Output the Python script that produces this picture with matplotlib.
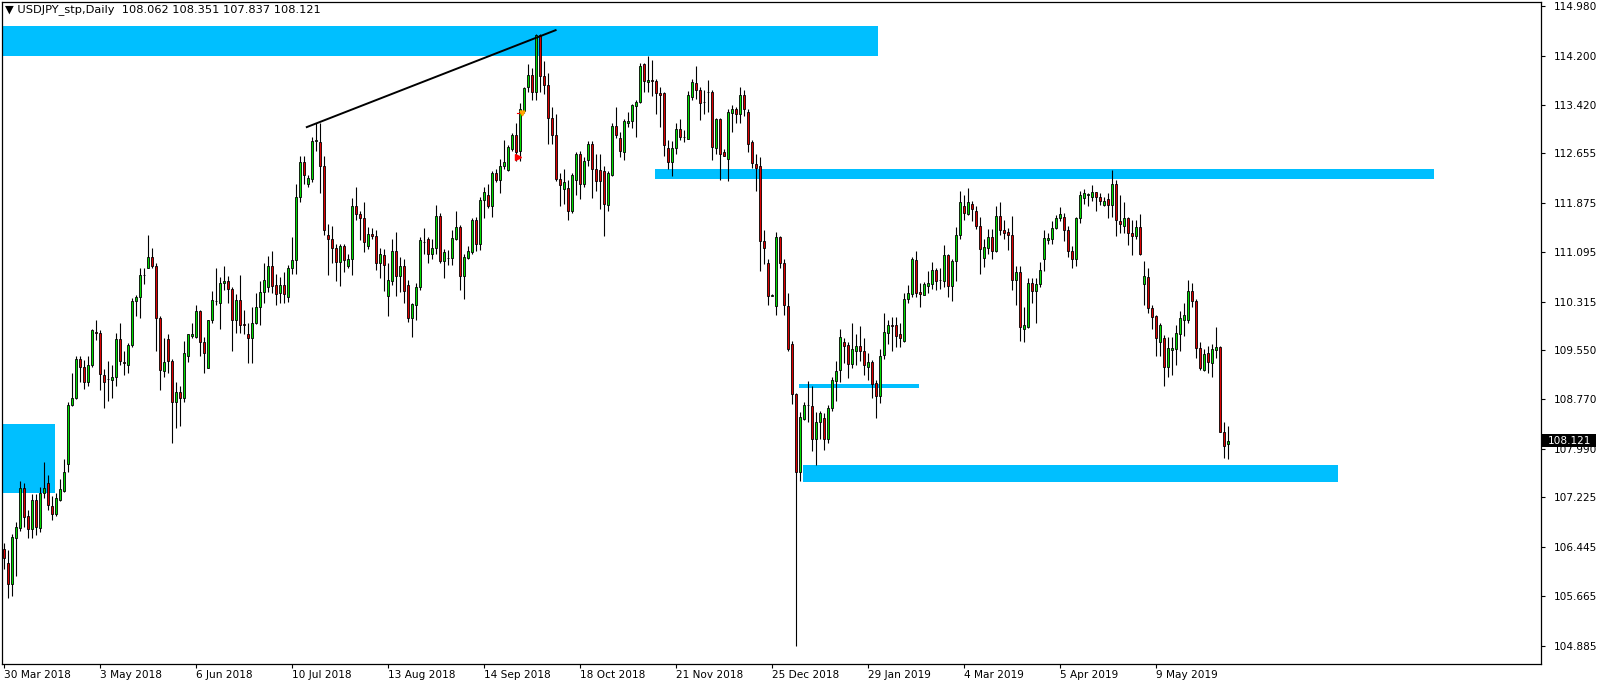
#!/usr/bin/env python
"""
USDJPY daily candlestick chart (MT4 style) with support / resistance zones
"""

import matplotlib
matplotlib.use('Agg')
import matplotlib.pyplot as plt
import matplotlib.transforms as mtransforms
from matplotlib.patches import Rectangle

# ---- data: one entry per daily bar, 30 Mar 2018 onwards ----
opens = [
    106.41, 106.19, 105.85, 106.58, 106.74, 107.37, 106.93, 106.72, 107.19, 106.74,
    107.30, 107.45, 107.09, 106.96, 107.19, 107.33, 107.75, 108.69, 108.80, 109.41,
    109.28, 109.05, 109.32, 109.83, 109.82, 109.15, 109.10, 109.08, 109.12, 109.73,
    109.36, 109.32, 109.63, 110.32, 110.38, 110.74, 110.85, 111.02, 110.88, 110.05,
    109.22, 109.73, 109.38, 108.73, 108.89, 108.79, 109.45, 109.77, 109.75, 110.17,
    109.68, 109.27, 110.02, 110.33, 110.30, 110.61, 110.64, 110.52, 110.03, 110.34,
    109.96, 109.81, 109.74, 109.98, 110.23, 110.46, 110.54, 110.88, 110.57, 110.45,
    110.57, 110.38, 110.84, 110.97, 111.97, 112.52, 112.17, 112.25, 112.85, 112.83,
    112.45, 111.37, 111.30, 111.16, 110.94, 111.20, 110.88, 110.99, 111.82, 111.70,
    111.63, 111.20, 111.38, 111.35, 110.93, 111.05, 110.40, 110.64, 111.11, 110.72,
    110.87, 110.57, 110.05, 110.26, 110.54, 111.25, 111.30, 111.06, 111.16, 111.66,
    110.95, 111.00, 111.00, 111.30, 111.50, 110.72, 111.00, 111.09, 111.61, 111.23,
    111.92, 112.00, 111.82, 112.34, 112.24, 112.46, 112.39, 112.72, 112.95, 112.69,
    113.33, 113.70, 113.89, 113.63, 114.52, 113.87, 113.74, 113.21, 112.95, 112.25,
    112.10, 112.11, 111.75, 112.23, 112.64, 112.17, 112.55, 112.81, 112.41, 112.39,
    112.38, 111.84, 112.32, 113.09, 112.90, 112.67, 113.14, 113.17, 113.41, 113.47,
    114.06, 113.78, 113.81, 113.80, 113.61, 113.61, 112.74, 112.52, 112.74, 113.04,
    112.92, 112.88, 113.54, 113.77, 113.66, 113.47, 113.63, 113.63, 112.74, 113.20,
    112.67, 112.57, 113.29, 113.35, 113.27, 113.57, 113.31, 112.83, 112.48, 112.46,
    111.27, 110.93, 110.41, 110.24, 111.34, 110.92, 110.24, 109.64, 108.85, 107.62,
    108.46, 108.69, 108.66, 108.14, 108.41, 108.48, 108.14, 108.63, 109.06, 109.24,
    109.68, 109.63, 109.33, 109.53, 109.61, 109.53, 109.29, 109.36, 109.03, 108.82,
    109.47, 109.82, 109.94, 109.95, 109.80, 109.70, 110.35, 110.43, 110.97, 110.47,
    110.42, 110.56, 110.59, 110.82, 110.66, 110.64, 111.05, 110.56, 110.95, 111.37,
    111.82, 111.70, 111.86, 111.74, 111.51, 111.00, 111.16, 111.33, 111.11, 111.66,
    111.45, 111.41, 111.37, 110.66, 110.78, 109.88, 109.91, 110.61, 110.49, 110.59,
    110.98, 111.28, 111.30, 111.47, 111.63, 111.65, 111.44, 111.11, 110.99, 111.63,
    111.95, 112.00, 111.96, 112.05, 111.96, 111.84, 111.93, 111.84, 112.17, 111.58,
    111.51, 111.63, 111.39, 111.35, 111.49, 110.59, 110.71, 110.21, 110.08, 109.67,
    109.74, 109.29, 109.55, 109.57, 109.81, 110.03, 110.03, 110.49, 110.33, 109.59,
    109.24, 109.50, 109.34, 109.55, 109.60, 108.25, 108.062,
]
highs = [
    106.51, 106.40, 106.65, 106.83, 107.49, 107.45, 107.03, 107.28, 107.28, 107.38,
    107.78, 107.57, 107.24, 107.30, 107.52, 107.83, 108.73, 109.18, 109.45, 109.45,
    109.39, 109.46, 109.89, 110.02, 109.86, 109.25, 109.38, 109.32, 109.82, 109.98,
    109.53, 109.66, 110.37, 110.42, 110.84, 110.84, 111.37, 111.16, 110.92, 110.09,
    109.74, 109.81, 109.41, 109.05, 108.98, 109.70, 109.81, 109.98, 110.26, 110.19,
    109.75, 110.03, 110.49, 110.84, 110.71, 110.88, 110.72, 110.54, 110.43, 110.73,
    110.19, 109.98, 110.23, 110.45, 110.64, 110.92, 111.04, 111.11, 110.75, 110.71,
    110.78, 110.89, 111.33, 112.17, 112.62, 112.62, 112.32, 112.92, 113.13, 113.14,
    112.62, 111.54, 111.51, 111.23, 111.23, 111.23, 111.07, 111.95, 112.13, 111.75,
    111.88, 111.49, 111.47, 111.44, 111.16, 111.14, 110.93, 111.30, 111.42, 111.02,
    110.99, 110.66, 110.29, 110.61, 111.34, 111.47, 111.34, 111.30, 111.84, 111.72,
    111.14, 111.13, 111.44, 111.74, 111.53, 111.06, 111.20, 111.63, 111.65, 111.97,
    112.13, 112.17, 112.38, 112.41, 112.57, 112.86, 112.79, 112.97, 113.14, 113.45,
    113.71, 114.06, 114.01, 114.54, 114.54, 114.11, 113.92, 113.38, 113.27, 112.34,
    112.41, 112.24, 112.34, 112.67, 112.69, 112.59, 112.85, 112.85, 112.65, 112.65,
    112.45, 112.38, 113.14, 113.38, 113.00, 113.20, 113.31, 113.43, 113.50, 114.08,
    114.08, 114.20, 114.13, 113.83, 113.70, 113.63, 112.86, 112.85, 113.13, 113.20,
    113.02, 113.64, 113.83, 114.03, 113.71, 113.66, 113.81, 113.66, 113.22, 113.22,
    112.72, 113.35, 113.42, 113.38, 113.70, 113.66, 113.35, 112.86, 112.64, 112.60,
    111.44, 110.99, 110.43, 111.41, 111.35, 110.99, 110.45, 109.70, 108.87, 108.57,
    108.73, 109.06, 108.99, 108.57, 108.59, 108.56, 108.68, 109.13, 109.38, 109.88,
    109.74, 109.67, 109.98, 109.80, 109.93, 109.74, 109.50, 109.39, 109.08, 109.57,
    110.14, 110.03, 110.07, 110.07, 109.98, 110.45, 110.57, 111.02, 111.11, 110.61,
    110.63, 110.79, 110.94, 110.85, 110.84, 111.21, 111.07, 110.99, 111.49, 112.06,
    111.99, 112.11, 111.90, 111.82, 111.65, 111.30, 111.46, 111.46, 111.82, 111.88,
    111.61, 111.47, 111.67, 110.88, 110.88, 110.23, 110.68, 110.68, 110.68, 110.94,
    111.44, 111.39, 111.58, 111.68, 111.81, 111.72, 111.51, 111.20, 111.65, 112.06,
    112.09, 112.03, 112.16, 112.05, 112.03, 111.97, 112.03, 112.39, 112.23, 111.99,
    111.88, 111.65, 111.60, 111.61, 111.70, 110.95, 110.84, 110.26, 110.10, 109.98,
    109.78, 109.75, 109.75, 109.95, 110.16, 110.29, 110.66, 110.61, 110.36, 109.67,
    109.57, 109.61, 109.64, 109.91, 109.61, 108.42, 108.351,
]
lows = [
    106.09, 105.63, 105.66, 105.98, 106.69, 106.75, 106.58, 106.58, 106.63, 106.68,
    107.21, 107.03, 106.86, 106.93, 107.16, 107.31, 107.62, 108.67, 108.77, 109.05,
    108.94, 108.99, 109.29, 109.71, 108.92, 108.63, 108.75, 108.80, 108.98, 109.32,
    109.15, 109.18, 109.60, 110.09, 110.05, 110.59, 110.84, 110.85, 109.53, 108.92,
    109.12, 109.18, 108.09, 108.32, 108.35, 108.73, 109.36, 109.74, 109.74, 109.46,
    109.19, 109.27, 109.98, 110.26, 109.89, 110.50, 110.30, 109.53, 109.82, 109.82,
    109.81, 109.34, 109.34, 109.96, 109.95, 110.30, 110.47, 110.45, 110.26, 110.30,
    110.30, 110.31, 110.75, 110.75, 111.89, 112.17, 112.13, 112.20, 112.69, 112.03,
    111.37, 110.73, 110.93, 110.64, 110.56, 110.78, 110.85, 110.73, 111.61, 111.28,
    111.09, 111.14, 111.30, 110.81, 110.68, 110.49, 110.09, 110.58, 110.40, 110.47,
    110.30, 110.00, 109.75, 110.03, 110.50, 111.06, 110.92, 110.99, 111.06, 110.92,
    110.68, 110.89, 110.89, 111.28, 110.50, 110.36, 110.99, 111.07, 111.11, 111.13,
    111.63, 111.79, 111.65, 112.20, 112.03, 112.41, 112.38, 112.69, 112.53, 112.53,
    113.29, 113.63, 113.50, 113.50, 113.63, 113.59, 112.81, 112.81, 112.22, 111.82,
    111.86, 111.61, 111.72, 111.99, 111.93, 112.13, 112.46, 111.95, 112.06, 111.77,
    111.35, 111.75, 112.29, 112.90, 112.59, 112.55, 113.07, 113.06, 112.92, 113.45,
    113.63, 113.63, 113.56, 113.28, 113.07, 112.62, 112.41, 112.29, 112.65, 112.86,
    112.83, 112.88, 113.50, 113.52, 113.18, 113.28, 113.31, 112.55, 112.64, 112.23,
    112.61, 112.22, 113.00, 113.14, 113.14, 113.24, 112.67, 112.43, 112.06, 110.79,
    110.91, 110.26, 110.40, 110.10, 110.84, 110.10, 109.53, 108.70, 104.885, 107.48,
    108.44, 108.41, 107.95, 107.74, 108.14, 107.97, 108.09, 108.59, 108.75, 109.05,
    109.34, 109.11, 109.27, 109.31, 109.38, 109.15, 109.08, 108.80, 108.48, 108.71,
    109.41, 109.64, 109.53, 109.60, 109.60, 109.68, 110.30, 110.38, 110.38, 110.23,
    110.42, 110.45, 110.52, 110.50, 110.52, 110.54, 110.38, 110.33, 110.64, 111.30,
    111.61, 111.68, 111.58, 111.46, 110.75, 110.86, 111.07, 110.99, 111.09, 111.37,
    111.30, 111.13, 110.50, 110.26, 109.70, 109.68, 109.90, 110.30, 109.98, 110.54,
    110.79, 111.23, 111.23, 111.46, 111.58, 111.27, 111.02, 110.84, 110.88, 111.56,
    111.86, 111.82, 111.90, 111.74, 111.84, 111.82, 111.63, 111.65, 111.35, 111.40,
    111.40, 111.21, 111.05, 111.30, 111.05, 110.26, 110.14, 109.88, 109.45, 109.45,
    108.99, 109.13, 109.15, 109.31, 109.53, 109.77, 109.98, 110.23, 109.43, 109.24,
    109.22, 109.18, 109.13, 109.43, 108.25, 107.85, 107.837,
]
closes = [
    106.27, 105.85, 106.60, 106.76, 107.37, 106.92, 106.72, 107.19, 106.76, 107.30,
    107.37, 107.10, 106.96, 107.21, 107.35, 107.62, 108.69, 108.80, 109.41, 109.28,
    109.05, 109.32, 109.86, 109.82, 109.17, 109.05, 109.09, 109.13, 109.73, 109.38,
    109.35, 109.63, 110.32, 110.38, 110.74, 110.73, 111.02, 110.88, 110.05, 109.24,
    109.36, 109.38, 108.73, 108.89, 108.79, 109.51, 109.80, 109.81, 110.17, 109.67,
    109.50, 110.02, 110.34, 110.32, 110.61, 110.64, 110.52, 110.03, 110.34, 109.95,
    109.95, 109.74, 109.98, 110.23, 110.47, 110.66, 110.88, 110.56, 110.43, 110.57,
    110.43, 110.84, 110.97, 111.97, 112.52, 112.32, 112.27, 112.85, 112.86, 112.45,
    111.44, 111.30, 111.16, 110.94, 111.20, 110.97, 110.99, 111.82, 111.70, 111.63,
    111.25, 111.38, 111.35, 110.93, 111.06, 110.90, 110.66, 111.11, 110.72, 110.87,
    110.49, 110.05, 110.27, 110.54, 111.28, 111.26, 111.06, 111.16, 111.66, 110.95,
    111.09, 111.01, 111.32, 111.50, 110.72, 111.02, 111.11, 111.61, 111.23, 111.92,
    112.05, 111.82, 112.34, 112.24, 112.46, 112.52, 112.76, 112.95, 112.67, 113.35,
    113.68, 113.90, 113.63, 114.52, 113.87, 113.73, 113.21, 112.95, 112.25, 112.15,
    112.20, 111.75, 112.31, 112.64, 112.17, 112.53, 112.81, 112.41, 112.22, 112.22,
    111.86, 112.34, 113.09, 112.95, 112.69, 113.17, 113.17, 113.42, 113.47, 114.03,
    113.80, 113.81, 113.79, 113.61, 113.58, 112.79, 112.52, 112.74, 113.04, 112.91,
    112.91, 113.57, 113.78, 113.66, 113.45, 113.46, 113.62, 112.76, 113.20, 112.64,
    112.62, 113.31, 113.35, 113.27, 113.57, 113.36, 112.81, 112.50, 112.43, 111.27,
    111.16, 110.40, 110.41, 111.34, 110.93, 110.26, 109.57, 108.85, 107.62, 108.49,
    108.69, 108.68, 108.14, 108.41, 108.55, 108.14, 108.64, 109.08, 109.22, 109.75,
    109.61, 109.33, 109.57, 109.61, 109.53, 109.31, 109.36, 109.01, 108.82, 109.46,
    109.84, 109.95, 109.93, 109.77, 109.74, 110.35, 110.45, 110.98, 110.45, 110.43,
    110.59, 110.61, 110.82, 110.64, 110.65, 111.05, 110.56, 110.95, 111.37, 111.89,
    111.72, 111.88, 111.77, 111.51, 111.14, 111.18, 111.33, 111.11, 111.67, 111.44,
    111.39, 111.37, 110.66, 110.78, 109.91, 109.95, 110.61, 110.49, 110.59, 110.82,
    111.32, 111.32, 111.47, 111.63, 111.70, 111.44, 111.11, 110.99, 111.63, 111.99,
    112.03, 112.01, 112.05, 111.96, 111.90, 111.91, 111.84, 112.17, 111.60, 111.54,
    111.63, 111.39, 111.35, 111.49, 111.07, 110.72, 110.21, 110.07, 109.74, 109.95,
    109.29, 109.59, 109.58, 109.82, 110.05, 110.10, 110.49, 110.33, 109.59, 109.27,
    109.48, 109.36, 109.57, 109.60, 108.26, 108.04, 108.121,
]

# date labels every 24 bars
date_labels = ['30 Mar 2018', '3 May 2018', '6 Jun 2018', '10 Jul 2018', '13 Aug 2018',
               '14 Sep 2018', '18 Oct 2018', '21 Nov 2018', '25 Dec 2018', '29 Jan 2019',
               '4 Mar 2019', '5 Apr 2019', '9 May 2019']
price_ticks = [114.980, 114.200, 113.420, 112.655, 111.875, 111.095, 110.315,
               109.550, 108.770, 107.990, 107.225, 106.445, 105.665, 104.885]

# zones drawn on the chart: (first bar, last bar, low price, high price)
zone_bars_start = [-0.5, -0.5, 162.75, 198.75, 199.75]
zone_bars_end = [218.5, 12.75, 357.5, 228.75, 333.5]
zone_low = [114.20, 107.30, 112.25, 108.955, 107.47]
zone_high = [114.67, 108.39, 112.41, 109.01, 107.74]

# trend line across the highs
trend_bars = [75.7, 137.9]
trend_prices = [113.07, 114.60]

last_price = 108.121
title_text = u'\u25bc USDJPY_stp,Daily  108.062 108.351 107.837 108.121'

BULL = '#00DD00'
BEAR = '#DD0000'
ZONE = '#00BFFF'


def plot_chart(save_path='out.png'):
    plt.rcParams['font.family'] = ['DejaVu Sans']
    fig = plt.figure(figsize=(16.04, 6.87), dpi=100)
    # plot area in pixels: x 2..1541, y 2..664
    ax = fig.add_axes([2 / 1604, 1 - 664 / 687, 1539 / 1604, 662 / 687])

    n = len(closes)
    xs = list(range(n))

    # zones (behind candles)
    for x0, x1, lo, hi in zip(zone_bars_start, zone_bars_end, zone_low, zone_high):
        ax.add_patch(Rectangle((x0, lo), x1 - x0, hi - lo, facecolor=ZONE,
                               edgecolor='none', zorder=1))

    # wicks
    ax.vlines(xs, lows, highs, colors='black', linewidth=0.8, zorder=2)

    # bodies
    bottoms = [min(o, c) for o, c in zip(opens, closes)]
    heights = [max(abs(c - o), 0.004) for o, c in zip(opens, closes)]
    colors = [BULL if c >= o else BEAR for o, c in zip(opens, closes)]
    ax.bar(xs, heights, bottom=bottoms, width=0.72, color=colors,
           edgecolor='black', linewidth=0.6, zorder=3)

    # trend line
    ax.plot(trend_bars, trend_prices, color='black', linewidth=1.4, zorder=4)

    # small trade arrows near 14 Sep
    ax.plot([128.4], [112.60], marker='>', color='red', markersize=4, zorder=5)
    ax.plot([128.2, 128.9], [113.30, 113.30], color='red', linewidth=0.8, zorder=5)
    ax.plot([129.5], [113.30], marker='v', color='orange', markersize=3.5, zorder=5)

    ax.set_xlim(-0.5, 384.25)
    ax.set_ylim(104.593, 115.045)

    # axes
    ax.set_xticks([24 * k for k in range(len(date_labels))])
    ax.set_xticklabels(date_labels, ha='left')
    ax.yaxis.tick_right()
    ax.set_yticks(price_ticks)
    ax.set_yticklabels(['%.3f' % p for p in price_ticks])
    ax.tick_params(axis='x', direction='out', length=3, width=0.8, pad=1.5,
                   labelsize=7.6, colors='black')
    ax.tick_params(axis='y', direction='out', length=3, width=0.8, pad=6,
                   labelsize=7.6, colors='black')
    for sp in ax.spines.values():
        sp.set_linewidth(0.9)
        sp.set_color('black')

    # current price tag on the right axis
    trans = mtransforms.blended_transform_factory(ax.transAxes, ax.transData)
    ax.add_patch(Rectangle((1.0005, last_price - 0.103), 0.035, 0.206,
                           transform=trans, facecolor='black', edgecolor='none',
                           clip_on=False, zorder=6))
    ax.text(1.0045, last_price, '%.3f' % last_price, transform=trans, color='white',
            fontsize=7.6, va='center', ha='left', clip_on=False, zorder=7)

    # title inside the chart
    ax.text(0.002, 0.988, title_text, transform=ax.transAxes, fontsize=8.2,
            va='center', ha='left', color='black', zorder=7)

    plt.savefig(save_path, dpi=100, facecolor='white')
    plt.close()


if __name__ == '__main__':
    plot_chart('out.png')
